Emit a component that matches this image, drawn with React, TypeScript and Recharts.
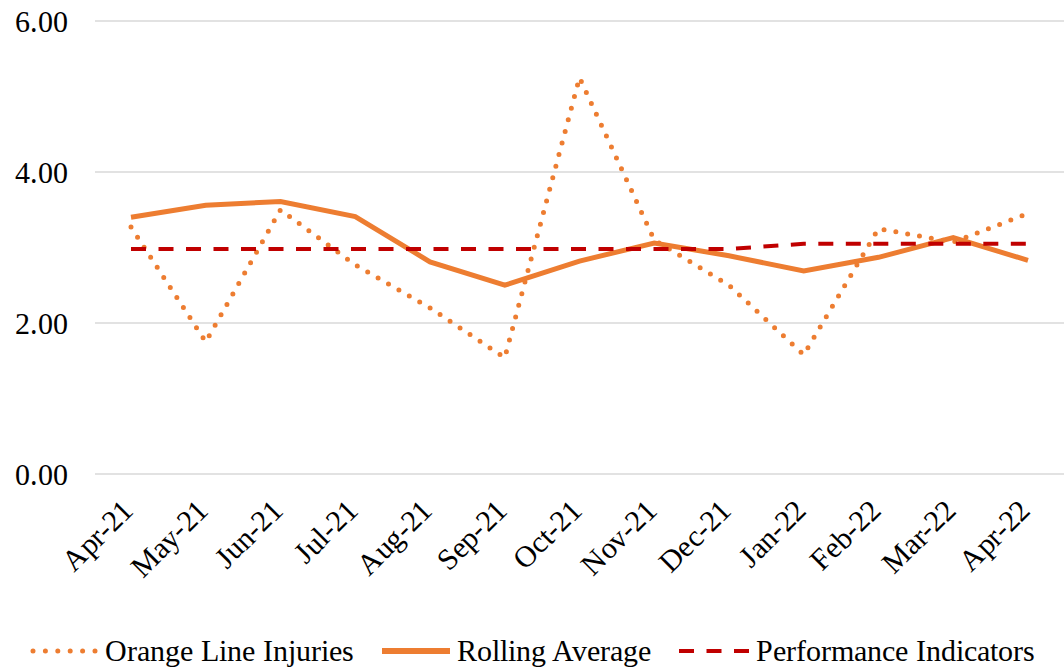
import React from "react";
import {
  LineChart,
  Line,
  XAxis,
  YAxis,
  CartesianGrid,
  Legend,
} from "recharts";

const months = [
  "Apr-21", "May-21", "Jun-21", "Jul-21", "Aug-21", "Sep-21", "Oct-21",
  "Nov-21", "Dec-21", "Jan-22", "Feb-22", "Mar-22", "Apr-22",
];
const injuries = [3.27, 1.75, 3.5, 2.77, 2.2, 1.54, 5.25, 3.1, 2.5, 1.58, 3.25, 3.07, 3.45];
const rollingAverage = [3.4, 3.56, 3.61, 3.41, 2.81, 2.5, 2.82, 3.06, 2.89, 2.69, 2.87, 3.13, 2.83];
const indicators = [2.98, 2.98, 2.98, 2.98, 2.98, 2.98, 2.98, 2.98, 2.98, 3.05, 3.05, 3.05, 3.05];
const yTicks = [0, 2, 4, 6];

const ORANGE = "#ED7D31";
const DARK_RED = "#C00000";
const FONT = '"ChartSerif", "Liberation Serif", "Times New Roman", "DejaVu Serif", serif';

// try to reach a serif face by its full / postscript name
const fontCss = `@font-face {
  font-family: "ChartSerif";
  src: local("Liberation Serif"), local("LiberationSerif"), local("LiberationSerif-Regular"),
       local("DejaVu Serif"), local("DejaVuSerif");
}`;

const data = months.map((m, i) => ({
  month: m,
  injuries: injuries[i],
  rolling: rollingAverage[i],
  indicators: indicators[i],
}));

// rotated month label, end of baseline sits just right of the tick
const MonthTick = ({ x, y, payload }: any) => {
  const ax = x + 4;
  const ay = y + 30;
  return (
    <text
      x={ax}
      y={ay}
      transform={`rotate(-45 ${ax} ${ay})`}
      textAnchor="end"
      style={{ fontFamily: FONT, fontSize: 30 }}
      fill="#000"
    >
      {payload.value}
    </text>
  );
};

const legendItems = [
  { label: "Orange Line Injuries", kind: "dot" },
  { label: "Rolling Average", kind: "solid" },
  { label: "Performance Indicators", kind: "dash" },
];

const LegendIcon = ({ kind }: { kind: string }) => {
  if (kind === "dot") {
    return (
      <svg width={68} height={10}>
        <line x1={3} x2={65} y1={5} y2={5} stroke={ORANGE} strokeWidth={5}
          strokeDasharray="0 12.4" strokeLinecap="round" />
      </svg>
    );
  }
  if (kind === "solid") {
    return (
      <svg width={68} height={10}>
        <line x1={0} x2={68} y1={5} y2={5} stroke={ORANGE} strokeWidth={6} />
      </svg>
    );
  }
  return (
    <svg width={70} height={10}>
      <line x1={0} x2={70} y1={5} y2={5} stroke={DARK_RED} strokeWidth={4}
        strokeDasharray="15 12.5" />
    </svg>
  );
};

const renderLegend = () => (
  <div
    style={{
      display: "flex",
      justifyContent: "center",
      alignItems: "center",
      height: 34,
      gap: 28,
      fontFamily: FONT,
      fontSize: 30,
      color: "#000",
    }}
  >
    {legendItems.map((it) => (
      <span key={it.label} style={{ display: "flex", alignItems: "center", gap: 7 }}>
        <LegendIcon kind={it.kind} />
        <span>{it.label}</span>
      </span>
    ))}
  </div>
);

export default function App() {
  return (
    <div style={{ position: "absolute", left: 0, top: 0, width: 1064, height: 668, background: "#fff", fontFamily: FONT }}>
      <style>{fontCss}</style>
      <LineChart
        width={1064}
        height={668}
        data={data}
        margin={{ top: 21, right: 0, bottom: 0, left: 0 }}
      >
        <CartesianGrid horizontal vertical={false} stroke="#D9D9D9" strokeWidth={1.5} />
        <XAxis
          dataKey="month"
          axisLine={false}
          tickLine={false}
          interval={0}
          height={160}
          padding={{ left: 36, right: 36 }}
          tick={<MonthTick />}
        />
        <YAxis
          domain={[0, 6]}
          ticks={yTicks}
          width={95}
          axisLine={false}
          tickLine={false}
          tickMargin={21}
          tickFormatter={(v: number) => v.toFixed(2)}
          tick={{ fill: "#000", fontSize: 30, style: { fontFamily: FONT } }}
        />
        <Legend verticalAlign="bottom" content={renderLegend} />
        <Line
          dataKey="injuries"
          name="Orange Line Injuries"
          stroke={ORANGE}
          strokeWidth={5}
          strokeDasharray="0 12"
          strokeLinecap="round"
          dot={false}
          activeDot={false}
          isAnimationActive={false}
        />
        <Line
          dataKey="rolling"
          name="Rolling Average"
          stroke={ORANGE}
          strokeWidth={5}
          dot={false}
          activeDot={false}
          isAnimationActive={false}
        />
        <Line
          dataKey="indicators"
          name="Performance Indicators"
          stroke={DARK_RED}
          strokeWidth={4}
          strokeDasharray="15 12.5"
          dot={false}
          activeDot={false}
          isAnimationActive={false}
        />
      </LineChart>
    </div>
  );
}
